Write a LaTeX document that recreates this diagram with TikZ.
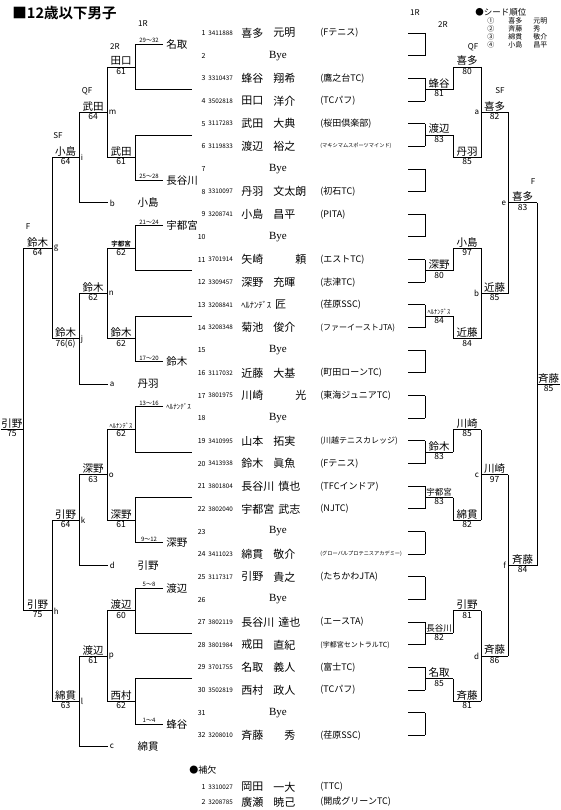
\documentclass[tikz,border=0pt]{standalone}
\usepackage{fontspec}
\setmainfont{Noto Sans CJK JP}[BoldFont={Noto Sans CJK JP Bold}]
\newfontfamily\byefont{Liberation Serif}
\usetikzlibrary{positioning,calc}
% y of a block: level #1 (0 row, 1 pair, 2 four rows, ...), index #2
\pgfmathdeclarefunction{ym}{2}{\pgfmathparse{33+((#2-1)*2^#1+(2^#1-1)/2)*22.66}}
\newcommand{\fs}[1]{\fontsize{#1}{#1}\selectfont}
% result line: name above, score below
\newcommand{\res}[7][wn]{%
  \draw (#3,{#5}) -- (#4,{#5});
  \node[#1] (#2) at ({(#3+#4)/2},{#5}) {#6};
  \node[sc] (#2s) at ({(#3+#4)/2},{#5}) {#7};}

\begin{document}
\begin{tikzpicture}[x=1pt,y=-1pt,line width=0.9pt,
  wn/.style={font=\fs{10.5},inner sep=0.8pt,anchor=south},
  wnm/.style={font=\fs{8.5},inner sep=0.8pt,anchor=south},
  wns/.style={font=\fs{6.5},inner sep=0.8pt,anchor=south},
  sc/.style={font=\fs{8.5},inner sep=0.6pt,anchor=north},
  rnd/.style={font=\fs{8},inner sep=0pt},
  ltr/.style={font=\fs{8},inner sep=0pt},
  rng/.style={font=\fs{6},inner sep=0.8pt,anchor=south},
  ent/.style={font=\fs{10.5},inner sep=0pt,anchor=west},
  num/.style={font=\fs{7},inner sep=0pt,anchor=east},
  reg/.style={font=\fs{6.3},inner sep=0pt,anchor=west},
  nm/.style={font=\fs{11},inner sep=0pt,anchor=west},
  cl/.style={font=\fs{9},inner sep=0pt,anchor=west},
  clm/.style={font=\fs{8},inner sep=0pt,anchor=west},
  cls/.style={font=\fs{7},inner sep=0pt,anchor=west},
  clt/.style={font=\fs{5.2},inner sep=0pt,anchor=west},
  sd/.style={font=\fs{7},inner sep=0pt,anchor=west}]
\useasboundingbox (0,0) rectangle (560,810);

\node[font=\fs{14.5}\bfseries,inner sep=0pt,anchor=west] (ttl) at (12,13) {■12歳以下男子};

% seeds
\node[font=\fs{8.5},inner sep=0pt,anchor=west] (seed) at (475,12) {●シード順位};
\foreach \i/\c/\s/\g in {1/①/喜多/元明,2/②/斉藤/秀,3/③/綿貫/敬介,4/④/小島/昌平}{
  \node[sd] (sdc\i) at (487,{21+(\i-1)*8}) {\c};
  \node[sd] (sds\i) at (508,{21+(\i-1)*8}) {\s};
  \node[sd] (sdg\i) at (533,{21+(\i-1)*8}) {\g};
}

% rounds
\node[rnd] (l1r) at (143,24) {1R};
\node[rnd] (l2r) at (115,47) {2R};
\node[rnd] (lqf) at (87,91) {QF};
\node[rnd] (lsf) at (58,136) {SF};
\node[rnd] (lf) at (28,227) {F};
\node[rnd] (r1r) at (415,13) {1R};
\node[rnd] (r2r) at (443,25) {2R};
\node[rnd] (rqf) at (473,47) {QF};
\node[rnd] (rsf) at (500,91) {SF};
\node[rnd] (rf) at (533,182) {F};

% entry list
\foreach \k/\rg/\sn/\gn/\club/\cst in {
  1/3411888/喜多/元明/(Fテニス)/cl, 3/3310437/蜂谷/翔希/(鷹之台TC)/cl,
  4/3502818/田口/洋介/(TCパフ)/cl, 5/3117283/武田/大典/(桜田倶楽部)/cl,
  6/3119833/渡辺/裕之/(マキシマムスポーツマインド)/clt, 8/3310097/丹羽/文太朗/(初石TC)/cl,
  9/3208741/小島/昌平/(PITA)/cl, 11/3701914/矢崎/　　頼/(エストTC)/cl,
  12/3309457/深野/充暉/(志津TC)/cl, 13/3208841/{\fs{8.5}ﾍﾙﾅﾝﾃﾞｽ}/匠/(荏原SSC)/cl,
  14/3208348/菊池/俊介/(ファーイーストJTA)/clm, 16/3117032/近藤/大基/(町田ローンTC)/cl,
  17/3801975/川崎/　　光/(東海ジュニアTC)/cl, 19/3410995/山本/拓実/(川越テニスカレッジ)/clm,
  20/3413938/鈴木/眞魚/(Fテニス)/cl, 21/3801804/長谷川/慎也/(TFCインドア)/cl,
  22/3802040/宇都宮/武志/(NJTC)/cl, 24/3411023/綿貫/敬介/(グローバルプロテニスアカデミー)/clt,
  25/3117317/引野/貴之/(たちかわJTA)/cl, 27/3802119/長谷川/達也/(エースTA)/cl,
  28/3801984/戒田/直紀/(宇都宮セントラルTC)/cls, 29/3701755/名取/義人/(富士TC)/cl,
  30/3502819/西村/政人/(TCパフ)/cl, 32/3208010/斉藤/　秀/(荏原SSC)/cl}{
  \node[num] (no\k) at (206,{ym(0,\k)}) {\k};
  \node[reg] (rg\k) at (208,{ym(0,\k)}) {\rg};
  \node[nm] (sn\k) at (241,{ym(0,\k)}) {\sn};
  \path let \p1=(sn\k.east) in node[nm] (gn\k) at ({max(273,\x1+3)},{ym(0,\k)}) {\gn};
  \node[\cst] (cb\k) at (320,{ym(0,\k)}) {\club};
}
\foreach \k in {2,7,10,15,18,23,26,31}{
  \node[num] (no\k) at (206,{ym(0,\k)}) {\k};
  \node[font=\byefont\fs{11},inner sep=0pt] (by\k) at (278,{ym(0,\k)}) {Bye};
}

% main draw
\foreach \k in {1,...,32} \draw (408,{ym(0,\k)}) -- (425,{ym(0,\k)});
\foreach \j in {1,...,16} \draw (425,{ym(0,2*\j-1)}) -- (425,{ym(0,2*\j)});
\foreach \b in {1,...,4}{
  \draw (453,{ym(2,2*\b-1)}) -- (453,{ym(1,4*\b-2)});
  \draw (453,{ym(1,4*\b-1)}) -- (453,{ym(2,2*\b)});
  \draw (481,{ym(2,2*\b-1)}) -- (481,{ym(2,2*\b)});
}
\foreach \h in {1,2} \draw (508,{ym(3,2*\h-1)}) -- (508,{ym(3,2*\h)});
\draw (537,{ym(4,1)}) -- (537,{ym(4,2)});
\res{r2a}{425}{453}{ym(1,2)}{蜂谷}{81}
\res{r2b}{425}{453}{ym(1,3)}{渡辺}{83}
\res{r2c}{425}{453}{ym(1,6)}{深野}{80}
\res[wns]{r2d}{425}{453}{ym(1,7)}{ﾍﾙﾅﾝﾃﾞｽ}{84}
\res{r2e}{425}{453}{ym(1,10)}{鈴木}{83}
\res[wnm]{r2f}{425}{453}{ym(1,11)}{宇都宮}{83}
\res[wnm]{r2g}{425}{453}{ym(1,14)}{長谷川}{82}
\res{r2h}{425}{453}{ym(1,15)}{名取}{85}
\res{rqa}{453}{481}{ym(2,1)}{喜多}{80}
\res{rqb}{453}{481}{ym(2,2)}{丹羽}{85}
\res{rqc}{453}{481}{ym(2,3)}{小島}{97}
\res{rqd}{453}{481}{ym(2,4)}{近藤}{84}
\res{rqe}{453}{481}{ym(2,5)}{川崎}{85}
\res{rqf}{453}{481}{ym(2,6)}{綿貫}{82}
\res{rqg}{453}{481}{ym(2,7)}{引野}{81}
\res{rqh}{453}{481}{ym(2,8)}{斉藤}{81}
\res{rsa}{481}{508}{ym(3,1)}{喜多}{82}
\res{rsb}{481}{508}{ym(3,2)}{近藤}{85}
\res{rsc}{481}{508}{ym(3,3)}{川崎}{97}
\res{rsd}{481}{508}{ym(3,4)}{斉藤}{86}
\res{rfa}{508}{537}{ym(4,1)}{喜多}{83}
\res{rfb}{508}{537}{ym(4,2)}{斉藤}{84}
\res{rw}{537}{560}{ym(5,1)}{斉藤}{85}
\foreach \b/\t in {1/a,2/b,3/c,4/d} \node[ltr,anchor=east] (rl\b) at (479.5,{ym(3,\b)}) {\t};
\foreach \h/\t in {1/e,2/f} \node[ltr,anchor=east] (rlf\h) at (506.5,{ym(4,\h)}) {\t};

% consolation draw
\foreach \g/\ta/\na/\tb/\nb/\cl/\cn in {1/29～32/名取/25～28/長谷川/b/小島,
  2/21～24/宇都宮/17～20/鈴木/a/丹羽, 3/13～16/{\fs{7}ﾍﾙﾅﾝﾃﾞｽ}/9～12/深野/d/引野,
  4/5～8/渡辺/1～4/蜂谷/c/綿貫}{
  \draw (163,{ym(1,4*\g-3)}) -- (135,{ym(1,4*\g-3)}) -- (135,{ym(1,4*\g-2)}) -- (192,{ym(1,4*\g-2)});
  \draw (192,{ym(1,4*\g-1)}) -- (135,{ym(1,4*\g-1)}) -- (135,{ym(1,4*\g)}) -- (163,{ym(1,4*\g)});
  \node[rng] (ta\g) at (149,{ym(1,4*\g-3)}) {\ta};
  \node[rng] (tb\g) at (149,{ym(1,4*\g)}) {\tb};
  \node[ent] (na\g) at (166,{ym(1,4*\g-3)}) {\na};
  \node[ent] (nb\g) at (166,{ym(1,4*\g)}) {\nb};
  \draw (107,{ym(2,2*\g-1)}) -- (107,{ym(2,2*\g)});
  \draw (79,{ym(3,\g)}) -- (79,{33+(8*\g-0.5)*22.66}) -- (108,{33+(8*\g-0.5)*22.66});
  \node[ltr,anchor=west] (cl\g) at (109.5,{33+(8*\g-0.5)*22.66}) {\cl};
  \node[ent,anchor=center] (cn\g) at (148,{33+(8*\g-0.5)*22.66}) {\cn};
}
\draw (52,{33+5.5*22.66}) -- (52,{33+13.5*22.66});
\draw (52,{33+21.5*22.66}) -- (52,{33+29.5*22.66});
\draw (23,{33+9.5*22.66}) -- (23,{33+25.5*22.66});
\res{l2a}{107}{135}{ym(2,1)}{田口}{61}
\res{l2b}{107}{135}{ym(2,2)}{武田}{61}
\res[wns]{l2c}{107}{135}{ym(2,3)}{\bfseries 宇都宮}{62}
\res{l2d}{107}{135}{ym(2,4)}{鈴木}{62}
\res[wns]{l2e}{107}{135}{ym(2,5)}{ﾍﾙﾅﾝﾃﾞｽ}{62}
\res{l2f}{107}{135}{ym(2,6)}{深野}{61}
\res{l2g}{107}{135}{ym(2,7)}{渡辺}{60}
\res{l2h}{107}{135}{ym(2,8)}{西村}{62}
\res{lqa}{79}{107}{ym(3,1)}{武田}{64}
\res{lqb}{79}{107}{ym(3,2)}{鈴木}{62}
\res{lqc}{79}{107}{ym(3,3)}{深野}{63}
\res{lqd}{79}{107}{ym(3,4)}{渡辺}{61}
\res{lsa}{52}{79}{33+5.5*22.66}{小島}{64}
\res{lsb}{52}{79}{33+13.5*22.66}{鈴木}{76(6)}
\res{lsc}{52}{79}{33+21.5*22.66}{引野}{64}
\res{lsd}{52}{79}{33+29.5*22.66}{綿貫}{63}
\res{lfa}{23}{52}{33+9.5*22.66}{鈴木}{64}
\res{lfb}{23}{52}{33+25.5*22.66}{引野}{75}
\res{lw}{1}{23}{33+17.5*22.66}{引野}{75}
\foreach \g/\q/\s in {1/m/i,2/n/j,3/o/k,4/p/l}{
  \node[ltr,anchor=west] (lql\g) at (108.5,{ym(3,\g)}) {\q};
  \node[ltr,anchor=west] (lsl\g) at (80.5,{33+(8*\g-2.5)*22.66}) {\s};
}
\node[ltr,anchor=west] (lfl1) at (53.5,{33+9.5*22.66}) {g};
\node[ltr,anchor=west] (lfl2) at (53.5,{33+25.5*22.66}) {h};

% reserves
\node[font=\fs{9},inner sep=0pt,anchor=west] (sub) at (189,770) {●補欠};
\foreach \k/\rg/\sn/\gn/\club in {1/3310027/岡田/一大/(TTC), 2/3208785/廣瀬/暁己/(開成グリーンTC)}{
  \node[num] (sno\k) at (206,{772+\k*15}) {\k};
  \node[reg] (srg\k) at (208,{772+\k*15}) {\rg};
  \node[nm] (ssn\k) at (241,{772+\k*15}) {\sn};
  \node[nm] (sgn\k) at (273,{772+\k*15}) {\gn};
  \node[cl] (scb\k) at (320,{772+\k*15}) {\club};
}
\end{tikzpicture}
\end{document}
